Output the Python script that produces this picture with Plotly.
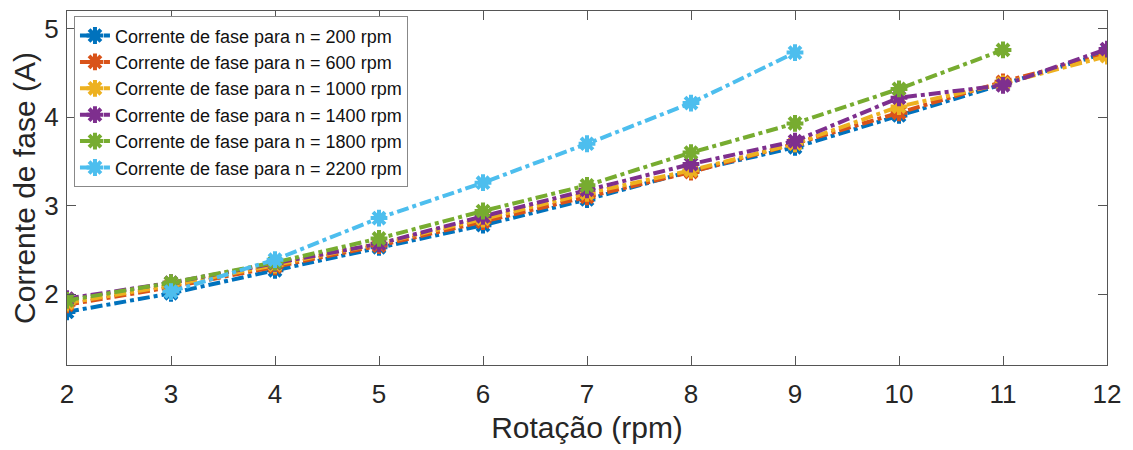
import plotly.graph_objects as go

# Rotação (eixo x)
rotacao = [2, 3, 4, 5, 6, 7, 8, 9, 10, 11, 12]

# Corrente de fase (A) por velocidade n
i_200 = [1.80, 2.01, 2.27, 2.53, 2.78, 3.07, 3.39, 3.66, 4.02, 4.38, 4.73]
i_600 = [1.88, 2.08, 2.31, 2.55, 2.82, 3.10, 3.38, 3.70, 4.05, 4.40, 4.71]
i_1000 = [1.90, 2.10, 2.33, 2.57, 2.85, 3.14, 3.40, 3.70, 4.12, 4.38, 4.69]
i_1400 = [1.95, 2.13, 2.35, 2.57, 2.88, 3.18, 3.47, 3.73, 4.22, 4.36, 4.77]
i_1800 = [1.93, 2.13, 2.36, 2.63, 2.94, 3.23, 3.60, 3.93, 4.32, 4.76]
i_2200 = [2.03, 2.39, 2.86, 3.26, 3.70, 4.16, 4.73]
rot_1800 = rotacao[:10]
rot_2200 = rotacao[1:8]

series = [
    ("Corrente de fase para n = 200 rpm", rotacao, i_200, "#0072BD"),
    ("Corrente de fase para n = 600 rpm", rotacao, i_600, "#D95319"),
    ("Corrente de fase para n = 1000 rpm", rotacao, i_1000, "#EDB120"),
    ("Corrente de fase para n = 1400 rpm", rotacao, i_1400, "#7E2F8E"),
    ("Corrente de fase para n = 1800 rpm", rot_1800, i_1800, "#77AC30"),
    ("Corrente de fase para n = 2200 rpm", rot_2200, i_2200, "#4DBEEE"),
]

fig = go.Figure()
for name, x, y, color in series:
    fig.add_trace(go.Scatter(
        x=x, y=y, name=name, mode="lines+markers",
        line=dict(color=color, width=4, dash="dashdot"),
        marker=dict(symbol="asterisk-open", size=14, line=dict(color=color, width=4)),
    ))

axis_style = dict(showline=True, linecolor="#555", linewidth=1, mirror="ticks",
                  ticks="inside", ticklen=9, tickcolor="#555", showgrid=False,
                  zeroline=False, automargin=False,
                  tickfont=dict(size=26, color="#262626"))

# the page body adds an 8px offset, margins account for it
fig.update_layout(
    width=1133, height=450,
    margin=dict(l=59, r=34, t=3, b=93),
    paper_bgcolor="white", plot_bgcolor="white",
    font=dict(family="Liberation Sans, Arial, sans-serif", color="#262626"),
    legend=dict(x=0.0067, y=0.985, xanchor="left", yanchor="top",
                bgcolor="white", bordercolor="#888", borderwidth=1,
                font=dict(size=18, color="#111"), tracegroupgap=0,
                itemwidth=30),
    showlegend=True,
)
fig.update_xaxes(range=[2, 12], dtick=1, ticklabelstandoff=6,
                 title=dict(text="Rotação (rpm)", font=dict(size=30), standoff=8), **axis_style)
fig.update_yaxes(range=[1.2, 5.2], tickvals=[2, 3, 4, 5], ticklabelstandoff=2,
                 title=dict(text="Corrente de fase (A)", font=dict(size=30), standoff=1), **axis_style)

fig.write_html("out.html")
